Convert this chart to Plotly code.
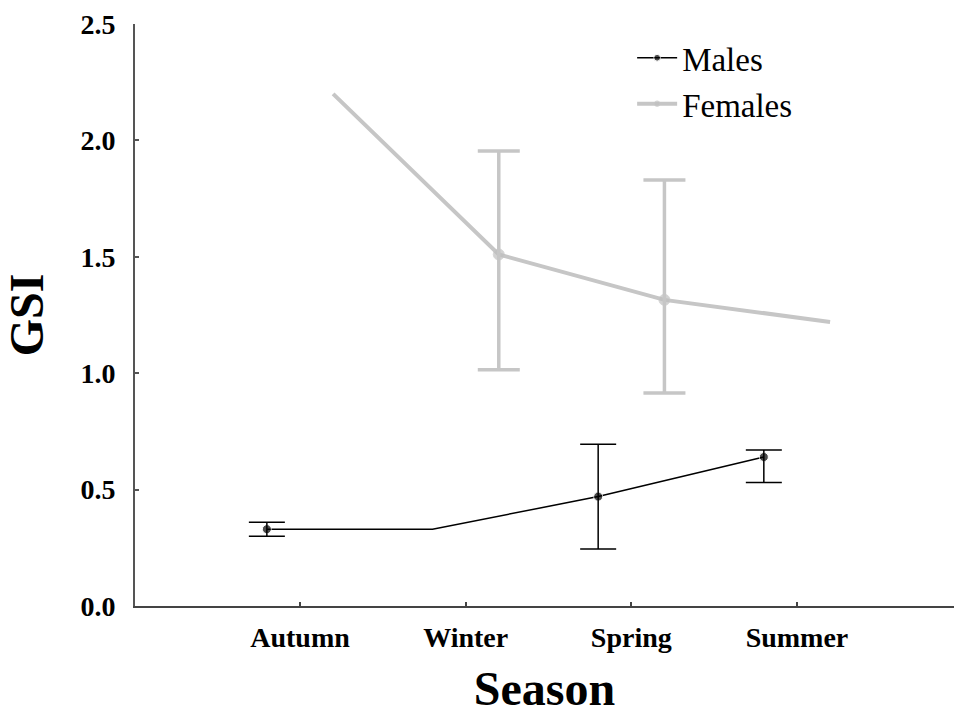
import plotly.graph_objects as go

seasons = ["Autumn", "Winter", "Spring", "Summer"]

males_gsi = [0.33, 0.33, 0.47, 0.64]
males_err_plus = [0.03, None, 0.225, 0.03]
males_err_minus = [0.03, None, 0.225, 0.11]
males_marker = [9, 0, 9, 9]

females_gsi = [2.20, 1.51, 1.315, 1.22]
females_err_plus = [None, 0.445, 0.515, None]
females_err_minus = [None, 0.495, 0.40, None]
females_marker = [0, 11, 11, 0]

pos = [1, 2, 3, 4]
offset = 0.2

FONT = "Liberation Serif"

fig = go.Figure()


def add_series(name, xs, ys, ep, em, sizes, lcolor, lwidth, mcolor, ecolor, ethick, ewidth):
    fig.add_trace(go.Scatter(
        x=xs, y=ys, name=name, mode="lines+markers",
        line=dict(color=lcolor, width=lwidth),
        marker=dict(color=mcolor, size=sizes),
    ))
    idx = [i for i in range(len(ys)) if ep[i] is not None]
    fig.add_trace(go.Scatter(
        x=[xs[i] for i in idx], y=[ys[i] for i in idx], mode="markers",
        marker=dict(size=1, color="rgba(0,0,0,0)"), showlegend=False, hoverinfo="skip",
        error_y=dict(type="data", symmetric=False, array=[ep[i] for i in idx],
                     arrayminus=[em[i] for i in idx], color=ecolor,
                     thickness=ethick, width=ewidth),
    ))


add_series("Males", [p - offset for p in pos], males_gsi, males_err_plus, males_err_minus,
           males_marker, "black", 1.5, "black", "black", 1.5, 18)
add_series("Females", [p + offset for p in pos], females_gsi, females_err_plus, females_err_minus,
           females_marker, "#c6c6c6", 4, "#c0c0c0", "#c6c6c6", 3.5, 21)

fig.update_layout(
    width=954, height=715,
    margin=dict(l=135, r=0, t=24, b=109),
    plot_bgcolor="white", paper_bgcolor="white",
    font=dict(family=FONT, color="black"),
    showlegend=True,
    legend=dict(x=0.607, y=0.99, xanchor="left", yanchor="top",
                font=dict(family=FONT, size=33, color="black"),
                bgcolor="rgba(0,0,0,0)", tracegroupgap=0, itemwidth=40),
    xaxis=dict(
        range=[0.004, 4.948],
        tickvals=pos, ticktext=seasons,
        showline=True, linecolor="#444", linewidth=2,
        ticks="inside", ticklen=4, tickwidth=1.5, tickcolor="#444",
        showgrid=False, zeroline=False,
        tickfont=dict(family=FONT, size=28, color="black", weight="bold"),
        ticklabelstandoff=5,
        title=dict(text="Season", font=dict(family=FONT, size=48, color="black", weight="bold"),
                   standoff=20),
    ),
    yaxis=dict(
        range=[0, 2.5],
        tickvals=[0, 0.5, 1.0, 1.5, 2.0, 2.5],
        ticktext=["0.0", "0.5", "1.0", "1.5", "2.0", "2.5"],
        showline=True, linecolor="#555", linewidth=2,
        ticks="inside", ticklen=4, tickwidth=1.5, tickcolor="#555",
        showgrid=False, zeroline=False,
        tickfont=dict(family=FONT, size=28, color="black", weight="bold"),
        ticklabelstandoff=12,
        title=dict(text="GSI", font=dict(family=FONT, size=48, color="black", weight="bold"),
                   standoff=24),
    ),
)

fig.write_html("out.html")
